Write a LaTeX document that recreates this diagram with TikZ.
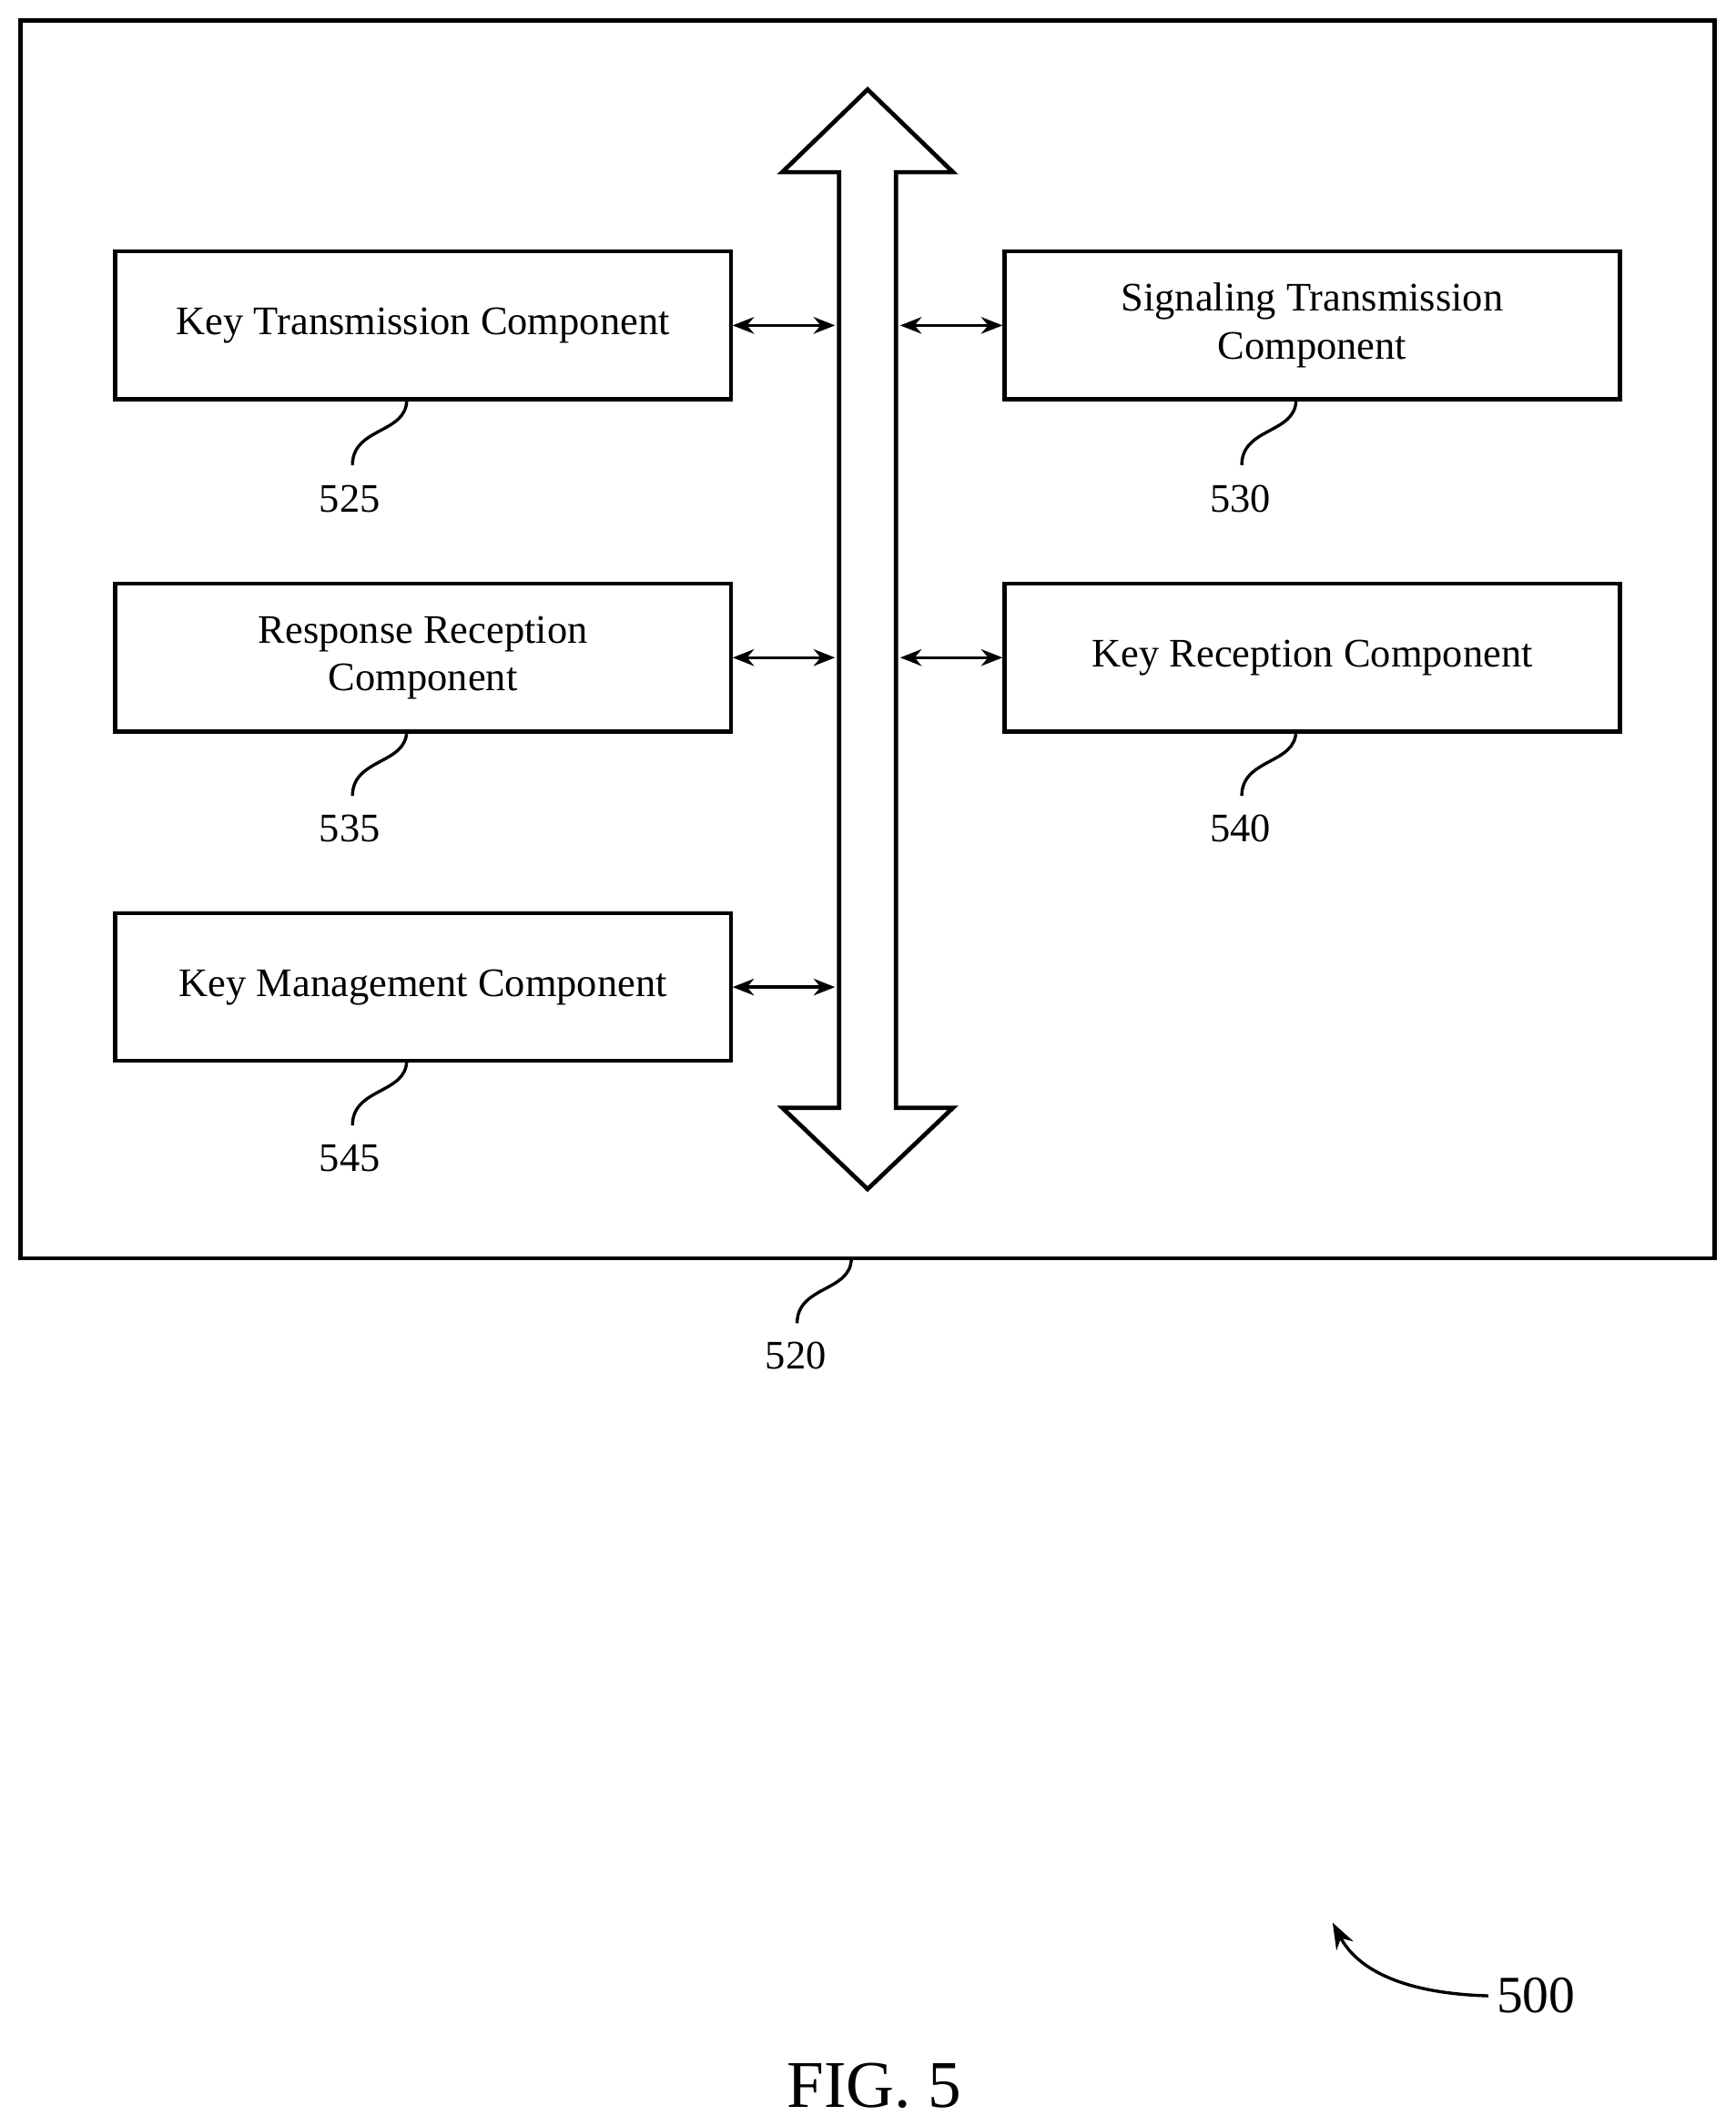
\documentclass[tikz,border=0pt]{standalone}
\usepackage{fontspec}
\setmainfont{Liberation Serif}
\usetikzlibrary{arrows.meta}
\tikzset{
  comp/.style={draw, line width=1.6pt, minimum width=454*0.02cm, minimum height=109*0.02cm,
    align=center, font=\fontsize{17}{20}\selectfont},
  ref/.style={font=\fontsize{17}{20}\selectfont},
  link/.style={line width=1.3pt, {Stealth[length=9pt,width=7pt]}-{Stealth[length=9pt,width=7pt]}},
  lead/.style={line width=1.3pt}
}
\begin{document}
\begin{tikzpicture}[x=0.02cm,y=-0.02cm]
\useasboundingbox (0,0) rectangle (1280,1568);
% outer frame
\draw[line width=1.8pt] (15,15) rectangle (1265,928);

% bus
\draw[line width=1.8pt, fill=white] (640,66) -- (703,127) -- (661,127) -- (661,817) -- (703,817)
  -- (640,877) -- (577,817) -- (619,817) -- (619,127) -- (577,127) -- cycle;

% components
\node[comp] (keytx) at (312,240) {Key Transmission Component};
\node[comp] (sigtx) at (968,240) {Signaling Transmission\\Component};
\node[comp] (resprx) at (312,485) {Response Reception\\Component};
\node[comp] (keyrx) at (968,485) {Key Reception Component};
\node[comp] (keymgmt) at (312,728) {Key Management Component};

% bus taps
\coordinate (bl1) at (616,240); \coordinate (br1) at (664,240);
\coordinate (bl2) at (616,485); \coordinate (br2) at (664,485);
\coordinate (bl3) at (616,728);
\draw[link] (keytx.east) -- (bl1);
\draw[link] (br1) -- (sigtx.west);
\draw[link] (resprx.east) -- (bl2);
\draw[link] (br2) -- (keyrx.west);
\draw[link] (keymgmt.east) -- (bl3);

% reference numerals
\node[ref] (n525) at (258,368) {525};
\node[ref] (n530) at (915,368) {530};
\node[ref] (n535) at (258,611) {535};
\node[ref] (n540) at (915,611) {540};
\node[ref] (n545) at (258,854) {545};
\node[ref] (n520) at (587,1000) {520};
\coordinate (c525) at (300,295);
\coordinate (c530) at (956,295);
\coordinate (c535) at (300,539);
\coordinate (c540) at (956,539);
\coordinate (c545) at (300,782);
\coordinate (c520) at (628,928);
\foreach \c/\n in {c525/n525,c530/n530,c535/n535,c540/n540,c545/n545,c520/n520}
  \draw[lead] (\c) .. controls ([yshift=-25*0.02cm]\c) and ([xshift=-40*0.02cm,yshift=-20*0.02cm]\c) .. ([xshift=-40*0.02cm,yshift=-48*0.02cm]\c);

% figure label
\node[font=\fontsize{22}{26}\selectfont] (n500) at (1133,1472) {500};
\draw[line width=1.3pt, -{Stealth[length=11pt,width=8pt]}] (n500.west) .. controls (1030,1470) and (1000,1450) .. (983,1418);
\node[font=\fontsize{28}{32}\selectfont] (fig) at (645,1538) {FIG. 5};
\end{tikzpicture}
\end{document}
